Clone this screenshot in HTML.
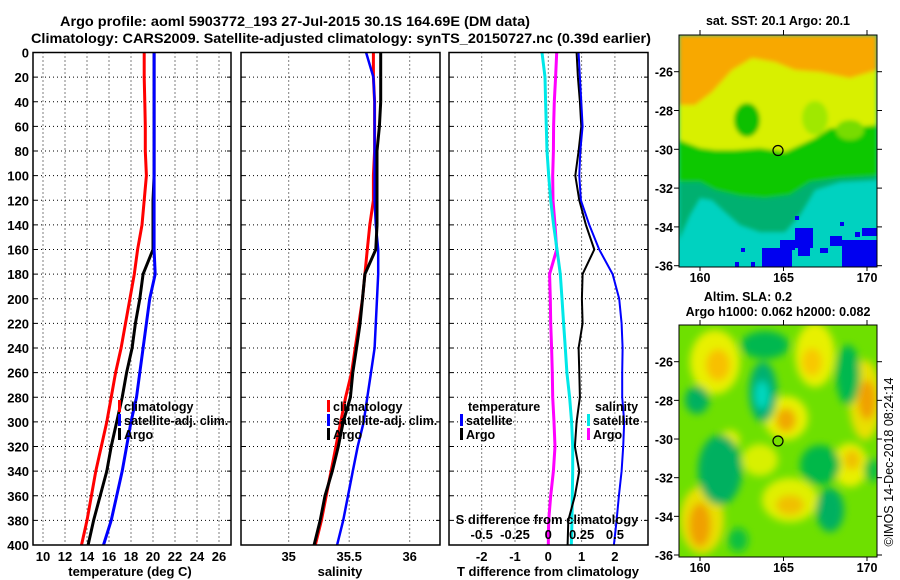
<!DOCTYPE html>
<html><head><meta charset="utf-8"><style>
html,body{margin:0;padding:0;background:#fff;}
svg{display:block;font-family:"Liberation Sans",sans-serif;font-weight:bold;}
</style></head><body>
<svg id="fig" width="900" height="580" viewBox="0 0 900 580" xmlns="http://www.w3.org/2000/svg">
<defs>
<filter id="blur" x="-50%" y="-50%" width="200%" height="200%"><feGaussianBlur stdDeviation="4"/></filter>
<filter id="blur2" x="-50%" y="-50%" width="200%" height="200%"><feGaussianBlur stdDeviation="2"/></filter>
<clipPath id="clipTop"><rect x="679" y="35" width="198" height="232"/></clipPath>
<clipPath id="clipBot"><rect x="679" y="325" width="198" height="232"/></clipPath>
</defs>
<text x="60" y="26" font-size="14" textLength="470" lengthAdjust="spacingAndGlyphs">Argo profile: aoml 5903772_193 27-Jul-2015 30.1S 164.69E (DM data)</text>
<text x="31" y="43" font-size="14" textLength="620" lengthAdjust="spacingAndGlyphs">Climatology: CARS2009. Satellite-adjusted climatology: synTS_20150727.nc (0.39d earlier)</text>

<!-- top map -->
<g clip-path="url(#clipTop)">
<rect x="679" y="35" width="198" height="232" fill="#00d2c0"/>
<g filter="url(#blur2)">
<path d="M679 35 H877 V180 L840 182 L815 190 L800 215 L785 232 L760 232 L740 225 L725 212 L712 200 L700 198 L690 215 L679 240 Z" fill="#00b070"/>
<path d="M679 35 H877 V176 L840 178 L810 182 L790 195 L765 198 L740 196 L715 190 L700 182 L679 182 Z" fill="#10c800"/>
<path d="M679 35 H877 V125 L850 128 L830 128 L815 138 L800 145 L785 152 L760 148 L735 150 L715 150 L700 148 L679 140 Z" fill="#d8f000"/>
<ellipse cx="747" cy="120" rx="13" ry="17" fill="#10c000"/>
<ellipse cx="815" cy="118" rx="13" ry="17" fill="#a0e800"/>
<ellipse cx="850" cy="130" rx="14" ry="10" fill="#78dc00"/>
<path d="M679 35 H877 V70 L850 78 L820 72 L795 70 L775 62 L752 58 L732 70 L712 92 L695 105 L679 105 Z" fill="#f8a800"/>
</g>
<g fill="#0000f0">
<rect x="762" y="248" width="30" height="19"/><rect x="780" y="240" width="15" height="10"/><rect x="795" y="228" width="18" height="20"/><rect x="798" y="248" width="12" height="8"/>
<rect x="842" y="240" width="35" height="27"/><rect x="830" y="236" width="12" height="10"/><rect x="862" y="228" width="15" height="8"/><rect x="820" y="248" width="8" height="5"/>
<rect x="741" y="248" width="4" height="4"/><rect x="751" y="262" width="4" height="5"/><rect x="735" y="262" width="4" height="5"/><rect x="855" y="232" width="5" height="5"/><rect x="840" y="222" width="4" height="4"/><rect x="795" y="216" width="4" height="4"/>
</g>
</g>
<rect x="679" y="35" width="198" height="232" fill="none" stroke="#000" stroke-width="1"/>
<circle cx="778" cy="150.5" r="5" fill="none" stroke="#000" stroke-width="1.2"/>

<!-- bottom map -->
<g clip-path="url(#clipBot)">
<rect x="679" y="325" width="198" height="232" fill="#6ee000"/>
<g filter="url(#blur)">
<ellipse cx="715" cy="362" rx="25" ry="32" fill="#e8f000"/><ellipse cx="718" cy="365" rx="12" ry="16" fill="#f8c000"/>
<ellipse cx="815" cy="355" rx="20" ry="32" fill="#e8f000"/><ellipse cx="812" cy="362" rx="10" ry="14" fill="#f8c800"/>
<ellipse cx="865" cy="400" rx="16" ry="40" fill="#e8e000"/><ellipse cx="867" cy="400" rx="9" ry="20" fill="#f0a000"/>
<ellipse cx="786" cy="418" rx="22" ry="22" fill="#e8f000"/><ellipse cx="786" cy="420" rx="10" ry="12" fill="#f0a800"/>
<ellipse cx="702" cy="520" rx="22" ry="34" fill="#e8e000"/><ellipse cx="700" cy="525" rx="11" ry="22" fill="#f0a000"/>
<ellipse cx="790" cy="500" rx="28" ry="22" fill="#e0f000"/><ellipse cx="790" cy="505" rx="14" ry="10" fill="#f0c000"/>
<ellipse cx="850" cy="465" rx="18" ry="22" fill="#e8f000"/><ellipse cx="852" cy="460" rx="8" ry="10" fill="#f0c000"/>
<ellipse cx="760" cy="460" rx="18" ry="16" fill="#d8f000"/>
<ellipse cx="730" cy="440" rx="10" ry="10" fill="#e0f000"/>
<ellipse cx="763" cy="392" rx="14" ry="30" fill="#00b070"/><ellipse cx="762" cy="395" rx="7" ry="14" fill="#00d8c0"/>
<ellipse cx="765" cy="345" rx="24" ry="14" fill="#00b850"/>
<ellipse cx="720" cy="470" rx="22" ry="35" fill="#00b060"/>
<ellipse cx="697" cy="400" rx="12" ry="14" fill="#00b060"/>
<ellipse cx="820" cy="465" rx="20" ry="20" fill="#00b848"/>
<ellipse cx="830" cy="510" rx="14" ry="22" fill="#00b060"/>
<ellipse cx="848" cy="375" rx="12" ry="30" fill="#00b850"/>
<ellipse cx="738" cy="540" rx="10" ry="12" fill="#10c040"/>
<ellipse cx="872" cy="470" rx="8" ry="12" fill="#10c040"/>
</g>
</g>
<rect x="679" y="325" width="198" height="232" fill="none" stroke="#000" stroke-width="1"/>
<circle cx="778" cy="441" r="5" fill="#78e000" stroke="#000" stroke-width="1.2"/>

<text x="778" y="25" font-size="12.5" text-anchor="middle">sat. SST: 20.1 Argo: 20.1</text>
<text x="748" y="301" font-size="12.5" text-anchor="middle">Altim. SLA: 0.2</text>
<text x="778" y="316" font-size="12.5" text-anchor="middle">Argo h1000: 0.062 h2000: 0.082</text>
<text transform="translate(893,462) rotate(-90)" font-size="12.5" font-weight="normal" text-anchor="middle">©IMOS 14-Dec-2018 08:24:14</text>
<g id="plots"></g>
</svg>
<script>
// ---- data ----
const depths = [0,20,40,60,80,100,120,140,160,180,200,220,240,260,280,300,320,340,360,380,400];
const tempClim = [19.2,19.2,19.25,19.3,19.3,19.4,19.2,19.0,18.6,18.3,17.9,17.5,17.1,16.6,16.2,15.8,15.3,14.8,14.4,14.0,13.5];
const tempSat  = [20.1,20.1,20.1,20.1,20.1,20.1,20.1,20.1,20.1,20.2,19.7,19.4,19.1,18.8,18.5,18.0,17.6,17.2,16.7,16.2,15.5];
const tempArgo = [20.1,20.1,20.1,20.1,20.1,20.1,20.0,20.0,20.0,19.1,18.8,18.4,18.1,17.6,17.2,16.7,16.2,15.8,15.2,14.6,14.1];
const salClim = [35.70,35.70,35.71,35.71,35.71,35.70,35.70,35.67,35.65,35.63,35.61,35.58,35.55,35.52,35.47,35.43,35.39,35.35,35.31,35.27,35.22];
const salSat  = [35.64,35.70,35.71,35.71,35.71,35.71,35.71,35.72,35.74,35.74,35.73,35.72,35.71,35.68,35.65,35.62,35.57,35.53,35.49,35.45,35.40];
const salArgo = [35.76,35.76,35.76,35.75,35.73,35.73,35.73,35.73,35.72,35.63,35.61,35.59,35.56,35.53,35.51,35.45,35.41,35.36,35.30,35.26,35.21];
const tdiffSat  = [0.91,0.95,0.99,1.03,0.96,0.93,0.98,1.23,1.53,1.93,2.13,2.2,2.23,2.22,2.22,2.28,2.25,2.2,2.12,2.05,1.97];
const tdiffArgo = [0.85,0.89,0.95,0.99,0.91,0.81,0.93,1.13,1.38,1.03,1.01,1.03,0.91,0.93,0.95,0.85,0.8,0.93,0.8,0.6,0.58];
const sdiffSat  = [-0.047,-0.025,-0.02,-0.015,-0.01,0.003,0.018,0.04,0.065,0.09,0.103,0.115,0.128,0.14,0.16,0.175,0.183,0.183,0.18,0.178,0.173];
const sdiffArgo = [0.063,0.055,0.045,0.04,0.038,0.033,0.035,0.05,0.063,0.01,0.015,0.018,0.025,0.03,0.033,0.043,0.05,0.038,0.018,0.003,0];
const depthTicks = [0,20,40,60,80,100,120,140,160,180,200,220,240,260,280,300,320,340,360,380,400];
const tempTicks = [10,12,14,16,18,20,22,24,26];
const salTicks = [35,35.5,36];
const tdTicks = [-2,-1,0,1,2];
const sdTicks = [-0.5,-0.25,0,0.25,0.5];
const latTicks = [-26,-28,-30,-32,-34,-36];
const lonTicks = [160,165,170];

const NS="http://www.w3.org/2000/svg";
const root=document.getElementById('plots');
function mk(tag,attrs,parent){const e=document.createElementNS(NS,tag);for(const k in attrs)e.setAttribute(k,attrs[k]);(parent||root).appendChild(e);return e;}
const Y0=52.5,Y1=545;
function yD(d){return Y0+(d/400)*(Y1-Y0);}
function lin(d0,d1,r0,r1){return v=>r0+(v-d0)/(d1-d0)*(r1-r0);}
const xT=lin(10,26,43,219);
const xS=lin(35,36,288.7,409.7);
const xTD=lin(0,1,548.3,581.6);
const xSD=v=>xTD(v*4);
const panels=[[33,231],[241,440],[449,648]];

panels.forEach((p,i)=>{
  const g=mk('g',{});
  
  
  depthTicks.forEach(d=>{ if(d>0&&d<400) mk('line',{x1:p[0],x2:p[1],y1:yD(d),y2:yD(d),stroke:'#000','stroke-width':1,'stroke-dasharray':'1,3'},g);});
});
function vgrid(ticks,fx,i){
  const g=mk('g',{});
  
  
  ticks.forEach(t=>mk('line',{x1:fx(t),x2:fx(t),y1:Y0,y2:Y1,stroke:'#000','stroke-width':1,'stroke-dasharray':'1,3'},g));
}
vgrid(tempTicks,xT,1);vgrid(salTicks,xS,2);vgrid(tdTicks,xTD,3);

depthTicks.forEach(d=>{
  const t=mk('text',{x:29,y:yD(d)+5,'font-size':13,'text-anchor':'end'});
  t.textContent=d;
  
  
  [0,1,2].forEach(i=>{ if(d>0&&d<400){ mk('line',{x1:panels[i][0],x2:panels[i][0]+4,y1:yD(d),y2:yD(d),stroke:'#000'}); mk('line',{x1:panels[i][1]-4,x2:panels[i][1],y1:yD(d),y2:yD(d),stroke:'#000'});}});
});

function series(vals,fx,color,w,name){
  const pts=depths.map((d,i)=>fx(vals[i]).toFixed(1)+','+yD(d).toFixed(1)).join(' ');
  const l=mk('polyline',{points:pts,fill:'none',stroke:color,'stroke-width':w,'stroke-linejoin':'round'});
  
  
}
series(tempClim,xT,'#ff0000',3,'temp-climatology-line');
series(tempArgo,xT,'#000',3,'temp-argo-line');
series(tempSat,xT,'#0000ff',3,'temp-satellite-line');
series(salClim,xS,'#ff0000',3,'sal-climatology-line');
series(salSat,xS,'#0000ff',2.5,'sal-satellite-line');
series(salArgo,xS,'#000',3,'sal-argo-line');
series(sdiffArgo,xSD,'#ff00ff',3,'sdiff-argo-line');
series(sdiffSat,xSD,'#00e8e8',3,'sdiff-satellite-line');
series(tdiffArgo,xTD,'#000',2,'tdiff-argo-line');
series(tdiffSat,xTD,'#0000ff',2,'tdiff-satellite-line');

panels.forEach((p,i)=>{
  const r=mk('rect',{x:p[0],y:Y0,width:p[1]-p[0],height:Y1-Y0,fill:'none',stroke:'#000','stroke-width':1.5});
  
  
});

function xlabels(ticks,fx,y,name){
  ticks.forEach(t=>{const e=mk('text',{x:fx(t),y:y,'font-size':13,'text-anchor':'middle'});e.textContent=t;
    
    });
}
xlabels(tempTicks,xT,561,'temp-tick-label');
xlabels(salTicks,xS,561,'sal-tick-label');
xlabels(tdTicks,xTD,561,'tdiff-tick-label');
xlabels(sdTicks,xSD,539,'sdiff-tick-label');

function txt(x,y,s,name,size,anchor){const e=mk('text',{x:x,y:y,'font-size':size||13,'text-anchor':anchor||'start'});e.textContent=s;
  
  return e;}
txt(130,576,'temperature (deg C)','temp-axis-title',13,'middle');
txt(340,576,'salinity','sal-axis-title',13,'middle');
txt(548,576,'T difference from climatology','tdiff-axis-title',13,'middle');
txt(547,524,'S difference from climatology','sdiff-axis-title',13,'middle');

function legItem(x,y,color,label,name){
  mk('rect',{x:x,y:y-11,width:3,height:12,fill:color});
  txt(x+6,y,label,name,12.5);
}
legItem(118,411,'#ff0000','climatology','legend-temp-climatology');
legItem(118,425,'#0000ff','satellite-adj. clim.','legend-temp-satellite');
legItem(118,439,'#000','Argo','legend-temp-argo');
legItem(327,411,'#ff0000','climatology','legend-sal-climatology');
legItem(327,425,'#0000ff','satellite-adj. clim.','legend-sal-satellite');
legItem(327,439,'#000','Argo','legend-sal-argo');
txt(468,411,'temperature','legend-temperature-heading',12.5);
legItem(460,425,'#0000ff','satellite','legend-tdiff-satellite');
legItem(460,439,'#000','Argo','legend-tdiff-argo');
txt(595,411,'salinity','legend-salinity-heading',12.5);
legItem(587,425,'#00e8e8','satellite','legend-sdiff-satellite');
legItem(587,439,'#ff00ff','Argo','legend-sdiff-argo');

const latY=[lin(-26,-36,71.7,265.7),lin(-26,-36,361.7,555)];
const lonX=lin(160,170,700,867);
[[35,267],[325,557]].forEach((b,m)=>{
  latTicks.forEach(l=>{const y=latY[m](l);
    txt(673,y+5,l,'map-lat-label',12.5,'end');
    mk('line',{x1:877,x2:882,y1:y,y2:y,stroke:'#000'});
    mk('line',{x1:674,x2:679,y1:y,y2:y,stroke:'#000'});});
  lonTicks.forEach(l=>{const x=lonX(l);
    txt(x,b[1]+15,l,'map-lon-label',12.5,'middle');
    mk('line',{x1:x,x2:x,y1:b[0]-5,y2:b[0],stroke:'#000'});
    mk('line',{x1:x,x2:x,y1:b[1],y2:b[1]+4,stroke:'#000'});});
});
</script>
</body></html>
